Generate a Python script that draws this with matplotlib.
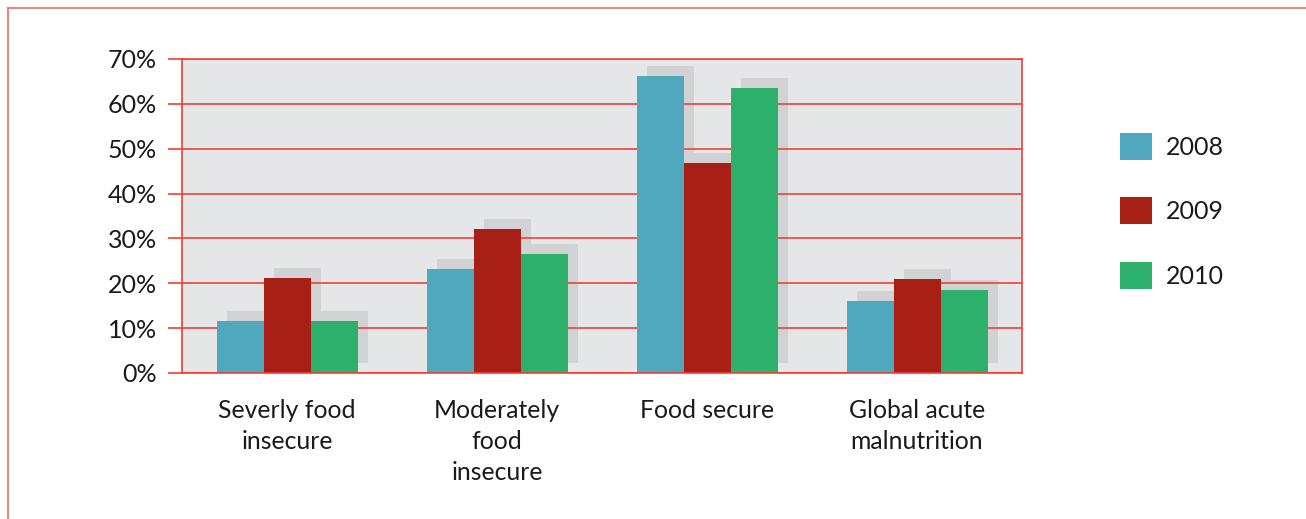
import numpy as np
import matplotlib
matplotlib.use("Agg")
import matplotlib.pyplot as plt
from matplotlib.transforms import ScaledTranslation
from matplotlib.lines import Line2D

categories = ["Severly food\ninsecure", "Moderately\nfood\ninsecure", "Food secure", "Global acute\nmalnutrition"]
years = ["2008", "2009", "2010"]
v2008 = [11.6, 23.2, 66.1, 16.1]
v2009 = [21.2, 32.1, 46.9, 21.0]
v2010 = [11.6, 26.6, 63.6, 18.5]
yticks = [0, 10, 20, 30, 40, 50, 60, 70]
ytick_labels = ["0%", "10%", "20%", "30%", "40%", "50%", "60%", "70%"]

colors = ["#50a8be", "#a82015", "#2db06b"]
shadow_color = "#d1d2d4"
bg_color = "#e5e6e8"
red_line = "#ef4136"
frame_red = "#f26b61"
text_color = "#1a1a1a"

plt.rcParams['font.family'] = ['Lato', 'DejaVu Sans']

W, H = 1306, 519
fig = plt.figure(figsize=(W / 100, H / 100), dpi=100)
ax = fig.add_axes([182 / W, 1 - 373 / H, 840 / W, 314 / H])
ax.set_facecolor(bg_color)

x = np.arange(len(categories))
w = 47 / 210
series = [v2008, v2009, v2010]
offs = [-w, 0, w]

shadow_tr = ax.transData + ScaledTranslation(10 / 100, 10 / 100, fig.dpi_scale_trans)
for vals, off in zip(series, offs):
    ax.bar(x + off, vals, w, color=shadow_color, transform=shadow_tr, zorder=0.2, linewidth=0)

for vals, off, c, lab in zip(series, offs, colors, years):
    ax.bar(x + off, vals, w, color=c, zorder=1, linewidth=0, label=lab)

ax.set_xlim(-0.5, len(categories) - 0.5)
ax.set_ylim(0, 70)
ax.set_axisbelow(True)
ax.yaxis.grid(True, color=red_line, linewidth=1.2)
ax.set_yticks(yticks)
ax.set_yticklabels(ytick_labels, fontsize=18, color=text_color)
ax.tick_params(axis='y', direction='out', length=10, width=1.2, color=red_line, pad=8)
ax.set_xticks(x)
ax.set_xticklabels(categories, fontsize=17.8, color=text_color, linespacing=1.4, va='top')
ax.tick_params(axis='x', length=0, pad=19)

for s in ax.spines.values():
    s.set_color(red_line)
    s.set_linewidth(1.2)

leg = ax.legend(loc='upper left', bbox_to_anchor=(1120 / W, 1 - 133 / H),
                bbox_transform=fig.transFigure, frameon=False, fontsize=18,
                handlelength=1.28, handleheight=1.28, handletextpad=0.56,
                labelspacing=1.5, borderpad=0, borderaxespad=0)
for t in leg.get_texts():
    t.set_color(text_color)

# outer page frame (top and left)
fig.add_artist(Line2D([8 / W, 1], [1 - 8 / H, 1 - 8 / H], transform=fig.transFigure, color=frame_red, linewidth=1.2))
fig.add_artist(Line2D([8 / W, 8 / W], [1 - 8 / H, 0], transform=fig.transFigure, color=frame_red, linewidth=1.2))

fig.savefig("out.png", dpi=100)
